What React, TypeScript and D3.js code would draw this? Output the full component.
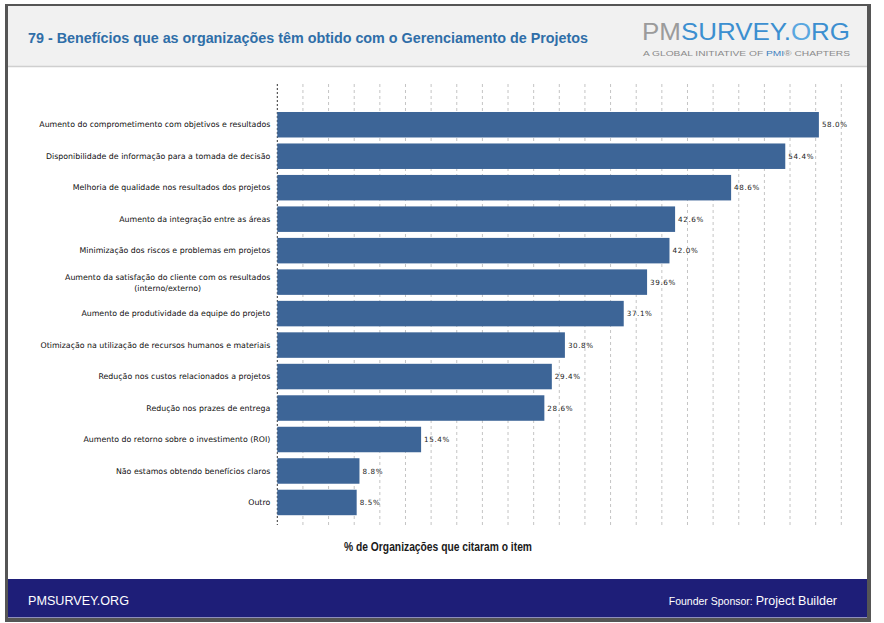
import React, { useEffect, useRef } from "react";
import * as d3 from "d3";

const categories: string[] = [
  "Aumento do comprometimento com objetivos e resultados",
  "Disponibilidade de informação para a tomada de decisão",
  "Melhoria de qualidade nos resultados dos projetos",
  "Aumento da integração entre as áreas",
  "Minimização dos riscos e problemas em projetos",
  "Aumento da satisfação do cliente com os resultados|(interno/externo)",
  "Aumento de produtividade da equipe do projeto",
  "Otimização na utilização de recursos humanos e materiais",
  "Redução nos custos relacionados a projetos",
  "Redução nos prazes de entrega",
  "Aumento do retorno sobre o investimento (ROI)",
  "Não estamos obtendo benefícios claros",
  "Outro",
];
const values: number[] = [58.0, 54.4, 48.6, 42.6, 42.0, 39.6, 37.1, 30.8, 29.4, 28.6, 15.4, 8.8, 8.5];
const valueLabels: string[] = ["58.0%", "54.4%", "48.6%", "42.6%", "42.0%", "39.6%", "37.1%", "30.8%", "29.4%", "28.6%", "15.4%", "8.8%", "8.5%"];
const xMax = 60.4;
const gridCount = 22;

const title = "79 - Benefícios que as organizações têm obtido com o Gerenciamento de Projetos";
const axisTitle = "% de Organizações que citaram o item";
const footerLeft = "PMSURVEY.ORG";
const footerSponsorA = "Founder Sponsor: ";
const footerSponsorB = "Project Builder";

const W = 884;
const H = 623;
const plot = { left: 277.3, right: 841.3, top: 84, bottom: 525, bandTop: 109, bandBottom: 518.2 };

export default function App() {
  const ref = useRef<SVGSVGElement>(null);

  useEffect(() => {
    const svg = d3.select(ref.current!);
    svg.selectAll("*").remove();

    // frame
    svg.append("rect").attr("x", 5).attr("y", 4).attr("width", 866).attr("height", 618).attr("fill", "#555");
    svg.append("rect").attr("x", 8).attr("y", 6).attr("width", 859).attr("height", 612).attr("fill", "#fff");
    // header
    svg.append("rect").attr("x", 8).attr("y", 6).attr("width", 859).attr("height", 60).attr("fill", "#f1f1f1");
    svg.append("line").attr("x1", 8).attr("x2", 867).attr("y1", 66.5).attr("y2", 66.5).attr("stroke", "#cfcfcf").attr("stroke-width", 1.5);
    svg.append("text").attr("x", 28).attr("y", 43).attr("font-family", "Liberation Sans, Arial, sans-serif")
      .attr("font-size", 15).attr("font-weight", "bold").attr("fill", "#2f6ea8")
      .attr("textLength", 560).attr("lengthAdjust", "spacingAndGlyphs").text(title);

    // logo
    const logo = svg.append("text").attr("x", 642).attr("y", 40).attr("font-family", "Liberation Sans Narrow, Liberation Sans, Arial, sans-serif")
      .attr("font-size", 24).attr("textLength", 208).attr("lengthAdjust", "spacingAndGlyphs");
    logo.append("tspan").attr("fill", "#9b9b9b").text("PM");
    logo.append("tspan").attr("fill", "#3c8fd0").text("SURVEY.");
    logo.append("tspan").attr("fill", "#5aa7e0").text("O");
    logo.append("tspan").attr("fill", "#3c8fd0").text("RG");
    const sub = svg.append("text").attr("x", 643).attr("y", 55.5).attr("font-family", "Liberation Sans, Arial, sans-serif")
      .attr("font-size", 7.5).attr("fill", "#8a8a8a").attr("textLength", 207).attr("lengthAdjust", "spacingAndGlyphs");
    sub.append("tspan").text("A GLOBAL INITIATIVE OF ");
    sub.append("tspan").attr("fill", "#3c7fc0").text("PMI");
    sub.append("tspan").text("® CHAPTERS");

    // scales
    const x = d3.scaleLinear().domain([0, xMax]).range([plot.left, plot.right]);
    const y = d3.scaleBand<number>().domain(d3.range(values.length)).range([plot.bandTop, plot.bandBottom])
      .paddingInner(0.19).paddingOuter(0.095);

    // gridlines
    const gridTicks = d3.range(1, gridCount + 1).map((i) => (i * xMax) / gridCount);
    svg.append("g").selectAll("line").data(gridTicks).join("line")
      .attr("x1", (d) => x(d)).attr("x2", (d) => x(d))
      .attr("y1", plot.top).attr("y2", plot.bottom)
      .attr("stroke", "#c4c4c4").attr("stroke-width", 1).attr("stroke-dasharray", "3,3");
    svg.append("line").attr("x1", x(0)).attr("x2", x(0)).attr("y1", plot.top).attr("y2", plot.bottom)
      .attr("stroke", "#333").attr("stroke-width", 1).attr("stroke-dasharray", "2,2");

    // bars
    svg.append("g").selectAll("rect").data(values).join("rect")
      .attr("x", x(0)).attr("y", (_, i) => y(i)!)
      .attr("width", (d) => x(d) - x(0)).attr("height", y.bandwidth())
      .attr("fill", "#3d6597");

    // value labels
    svg.append("g").selectAll("text").data(values).join("text")
      .attr("x", (d) => x(d) + 3).attr("y", (_, i) => y(i)! + y.bandwidth() / 2)
      .attr("dy", "0.35em").attr("font-family", "DejaVu Sans, sans-serif").attr("font-size", 7.2)
      .attr("letter-spacing", 0.6).attr("fill", "#222").text((_, i) => valueLabels[i]);

    // category labels
    const lab = svg.append("g");
    const fs = 7.85;
    categories.forEach((c, i) => {
      const lines = c.split("|");
      const cy = y(i)! + y.bandwidth() / 2;
      const endX = x(0) - 7;
      if (lines.length === 1) {
        lab.append("text").attr("x", endX).attr("y", cy).attr("dy", "0.35em").attr("text-anchor", "end")
          .attr("font-family", "DejaVu Sans, sans-serif").attr("font-size", fs).attr("fill", "#111").text(lines[0]);
      } else {
        const t1 = lab.append("text").attr("x", endX).attr("y", cy - 5).attr("dy", "0.35em").attr("text-anchor", "end")
          .attr("font-family", "DejaVu Sans, sans-serif").attr("font-size", fs).attr("fill", "#111").text(lines[0]);
        const w = (t1.node() as SVGTextElement).getComputedTextLength();
        lab.append("text").attr("x", endX - w / 2).attr("y", cy + 6).attr("dy", "0.35em").attr("text-anchor", "middle")
          .attr("font-family", "DejaVu Sans, sans-serif").attr("font-size", fs).attr("fill", "#111").text(lines[1]);
      }
    });

    // axis title
    svg.append("text").attr("x", 438).attr("y", 551).attr("text-anchor", "middle")
      .attr("font-family", "Liberation Sans, Arial, sans-serif").attr("font-size", 12).attr("font-weight", "bold").attr("fill", "#1a1a1a")
      .attr("textLength", 188).attr("lengthAdjust", "spacingAndGlyphs")
      .text(axisTitle);

    // footer
    svg.append("rect").attr("x", 8).attr("y", 579).attr("width", 859).attr("height", 38.5).attr("fill", "#1e1e78");
    svg.append("text").attr("x", 28).attr("y", 605).attr("font-family", "Liberation Sans, Arial, sans-serif")
      .attr("font-size", 12.5).attr("fill", "#fff").attr("textLength", 101).attr("lengthAdjust", "spacingAndGlyphs").text(footerLeft);
    const sp = svg.append("text").attr("x", 837).attr("y", 605).attr("text-anchor", "end")
      .attr("font-family", "Liberation Sans, Arial, sans-serif").attr("fill", "#fff");
    sp.append("tspan").attr("font-size", 10.5).text(footerSponsorA);
    sp.append("tspan").attr("font-size", 12.5).text(footerSponsorB);
  }, []);

  return (
    <svg ref={ref} width={W} height={H} style={{ position: "absolute", left: 0, top: 0, background: "#fff" }} />
  );
}
